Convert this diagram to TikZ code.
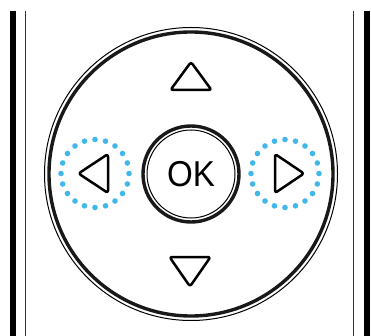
\documentclass[tikz,border=0pt]{standalone}
\usepackage{fontspec}
\setmainfont{Liberation Sans}
\usetikzlibrary{calc}
\definecolor{dotblue}{HTML}{42B7EA}
\begin{document}
\begin{tikzpicture}[x=1pt,y=-1pt,
  tri/.style={line width=2.5pt, line join=round, rounded corners=2.5pt},
  thinring/.style={line width=1pt},
  thickring/.style={line width=3.4pt},
  bluedot/.style={fill=dotblue, draw=none}]
\useasboundingbox (0,0) rectangle (371,336);
% side bars
\fill (10,11) rectangle (16,336);
\fill (363.5,11) rectangle (370,336);
\draw[line width=1.2pt, black!80] (25.5,11) -- (25.5,336);
\draw[line width=1.2pt, black!80] (353.5,11) -- (353.5,336);
% big d-pad ring
\coordinate (c) at (191,174);
\draw[thinring] (c) circle[radius=146.5];
\draw[thickring, black!90] (c) circle[radius=142];
% OK button
\draw[thickring, black!90] (c) circle[radius=48];
\draw[thinring] (c) circle[radius=44];
\node[font=\fontsize{36}{36}\selectfont, xscale=0.92, inner sep=0] (ok) at (191,174.5) {OK};
% triangles
\draw[tri] (191,62) -- (211.5,90) -- (170.5,90) -- cycle;
\draw[tri] (190,286.5) -- (169.5,257) -- (210.5,257) -- cycle;
\draw[tri] (78.5,173.5) -- (108,154) -- (108,193) -- cycle;
\draw[tri] (304,173.5) -- (275,154) -- (275,193) -- cycle;
% dotted highlight rings
\foreach \a in {0,18,...,342}{
  \fill[bluedot] ($(95,173.5)+(\a:34)$) circle[radius=2.8pt];
  \fill[bluedot] ($(285,173.5)+(\a:34)$) circle[radius=2.8pt];
}
\end{tikzpicture}
\end{document}
